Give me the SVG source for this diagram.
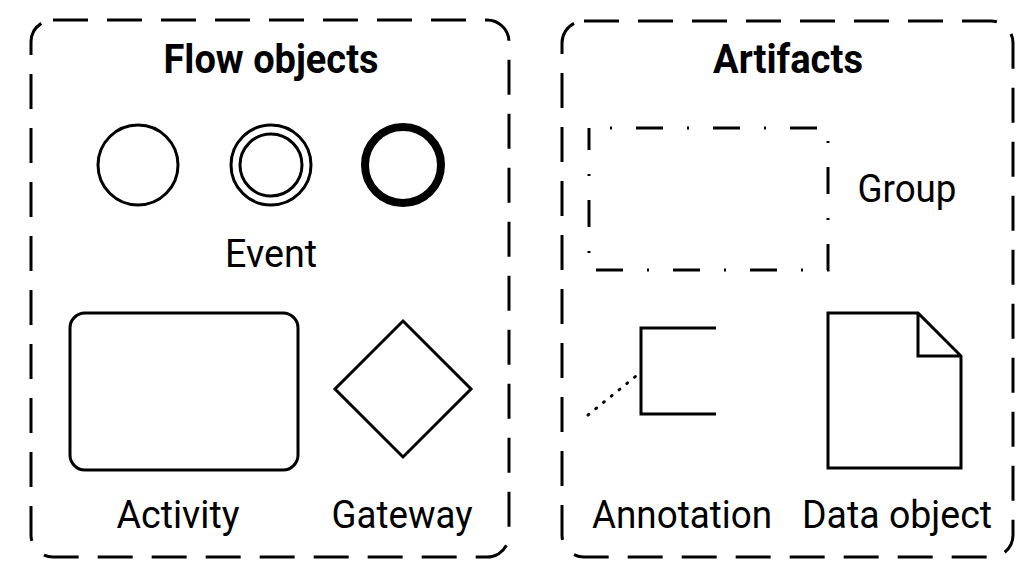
<svg xmlns="http://www.w3.org/2000/svg" width="1024" height="572" viewBox="0 0 1024 572">
<style>
.panel{fill:none;stroke:#000;stroke-width:3;stroke-dasharray:35 19}
.shape{fill:none;stroke:#000;stroke-width:3}
.title{font-family:Roboto,"Liberation Sans",sans-serif;font-weight:bold;font-size:40px;text-anchor:middle;fill:#000}
.label{font-family:Roboto,"Liberation Sans",sans-serif;font-size:39px;text-anchor:middle;fill:#000}
</style>
<rect width="1024" height="572" fill="#fff"/>
<g id="flow-objects">
<rect class="panel" x="31" y="20" width="478" height="537" rx="22"/>
<text class="title" x="271" y="73" textLength="215" lengthAdjust="spacingAndGlyphs">Flow objects</text>
</g>
<g id="event">
<circle class="shape" cx="138" cy="165" r="40"/>
<circle class="shape" cx="271" cy="165" r="40"/>
<circle class="shape" cx="271" cy="165" r="31"/>
<circle cx="403" cy="165" r="38" fill="none" stroke="#000" stroke-width="8"/>
<text class="label" x="271" y="267" textLength="92" lengthAdjust="spacingAndGlyphs">Event</text>
</g>
<g id="activity">
<rect class="shape" x="70" y="313" width="228" height="157" rx="15"/>
<text class="label" x="178" y="528" textLength="123" lengthAdjust="spacingAndGlyphs">Activity</text>
</g>
<g id="gateway">
<polygon class="shape" points="403,321 471,389 403,457 335,389"/>
<text class="label" x="402" y="528" textLength="141" lengthAdjust="spacingAndGlyphs">Gateway</text>
</g>
<g id="artifacts">
<rect class="panel" x="562" y="21" width="451" height="536" rx="22"/>
<text class="title" x="788" y="73" textLength="150" lengthAdjust="spacingAndGlyphs">Artifacts</text>
</g>
<g id="group">
<rect x="589" y="128" width="239" height="142" fill="none" stroke="#000" stroke-width="3" stroke-dasharray="27 24 2 24" stroke-dashoffset="-47"/>
<text class="label" x="907" y="202" textLength="99" lengthAdjust="spacingAndGlyphs">Group</text>
</g>
<g id="annotation">
<polyline class="shape" points="716,328 641,328 641,414 716,414"/>
<text class="label" x="682" y="528" textLength="180" lengthAdjust="spacingAndGlyphs">Annotation</text>
</g>
<g id="data-object">
<path class="shape" d="M828,313 H918 L961,356 V468 H828 Z M918,313 V356 H961" stroke-linejoin="miter"/>
<text class="label" x="897" y="528" textLength="190" lengthAdjust="spacingAndGlyphs">Data object</text>
</g>
<g id="connectors">
<line x1="588" y1="415" x2="641" y2="372" stroke="#000" stroke-width="3" stroke-dasharray="1 9" stroke-linecap="round"/>
</g>
</svg>
